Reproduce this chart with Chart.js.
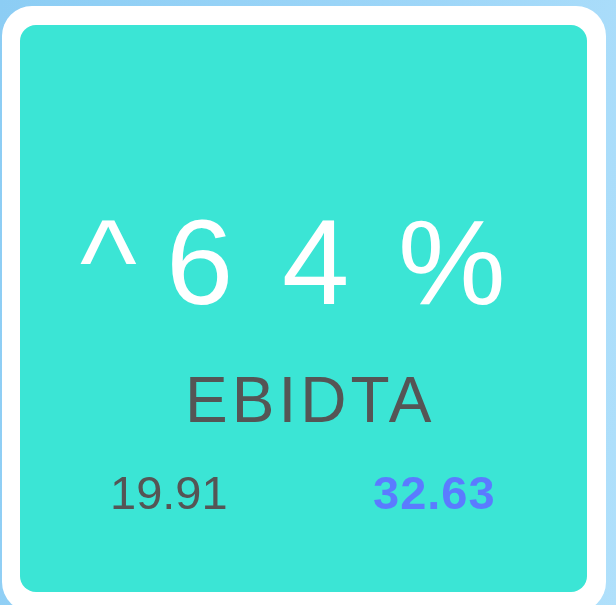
<!DOCTYPE html>
<html>
<head>
<meta charset="utf-8">
<script src="https://cdn.jsdelivr.net/npm/chart.js@4"></script>
<style>
  html, body { margin: 0; padding: 0; }
  body {
    width: 616px; height: 605px; overflow: hidden;
    background: linear-gradient(100deg, #8ccdf4 0%, #9ed6f8 60%, #b0e0fb 100%);
    position: relative;
  }
  .outer {
    position: absolute; left: 2px; top: 6px; width: 604px; height: 606px;
    background: #fff; border-radius: 30px;
  }
  .inner {
    position: absolute; left: 18px; top: 19px; width: 567px; height: 567px;
    background: #3be5d5; border-radius: 16px; overflow: hidden;
  }
  canvas { display: block; }
</style>
</head>
<body>
<div class="outer"><div class="inner"><canvas id="kpi" width="567" height="567"></canvas></div></div>
<script>
// === データ ===
const kpiName = ["EBIDTA"];
const changePct = [64];
const prevValue = [19.91];
const currValue = [32.63];

// === 描画位置（キャンバス座標） ===
const FONT = '"Liberation Sans", Arial, Helvetica, sans-serif';
const bigInkX = [60, 152, 264, 382];

function inkText(ctx, txt, inkLeft, base) {
  const m = ctx.measureText(txt);
  ctx.fillText(txt, inkLeft + m.actualBoundingBoxLeft, base);
}

const cardText = {
  id: "cardText",
  afterDraw(chart) {
    const ctx = chart.ctx;
    ctx.save();
    ctx.textAlign = "left";
    ctx.textBaseline = "alphabetic";

    // 変化率
    ctx.fillStyle = "#ffffff";
    ctx.font = "121px " + FONT;
    const glyphs = ["^", ...String(changePct[0]).split(""), "%"];
    glyphs.forEach((g, i) => inkText(ctx, g, bigInkX[i], 279));

    // 指標名
    ctx.fillStyle = "#555555";
    ctx.font = "64px " + FONT;
    ctx.letterSpacing = "4px";
    inkText(ctx, kpiName[0], 170, 397);

    // 前期・今期
    ctx.font = "47px " + FONT;
    ctx.letterSpacing = "0px";
    inkText(ctx, prevValue[0].toFixed(2), 93, 484);

    ctx.fillStyle = "#5b7bff";
    ctx.font = "bold 47px " + FONT;
    ctx.letterSpacing = "1px";
    inkText(ctx, currValue[0].toFixed(2), 354, 484);
    ctx.restore();
  }
};

new Chart(document.getElementById("kpi"), {
  type: "bar",
  data: { labels: kpiName, datasets: [] },
  options: {
    responsive: false,
    animation: false,
    devicePixelRatio: 1,
    layout: { padding: 0 },
    plugins: { legend: { display: false }, tooltip: { enabled: false } },
    scales: { x: { display: false }, y: { display: false } }
  },
  plugins: [cardText]
});
</script>
</body>
</html>
